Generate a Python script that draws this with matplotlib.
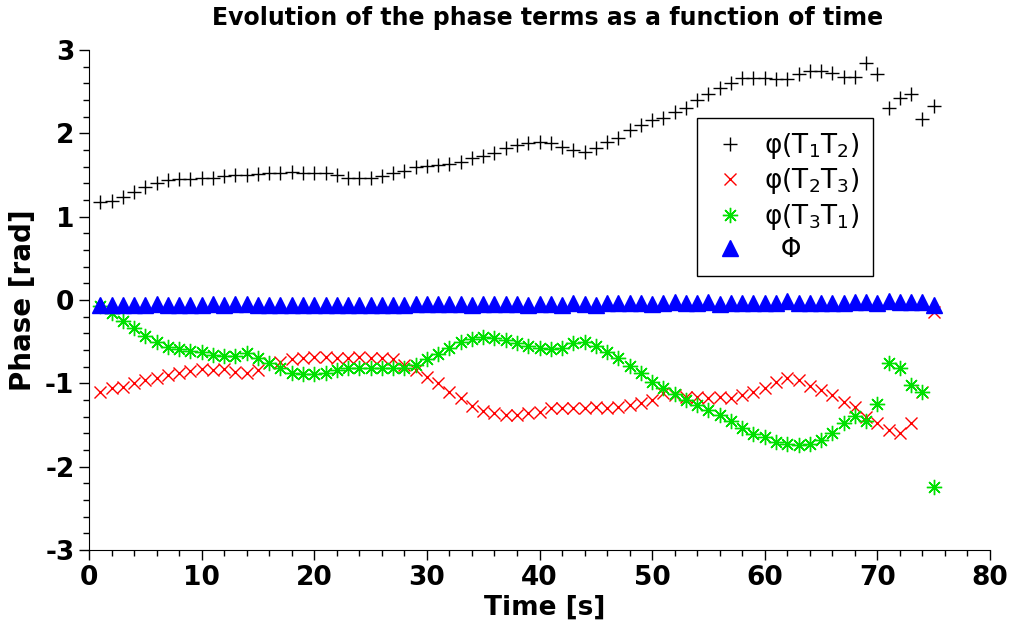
import matplotlib
matplotlib.use('Agg')
import matplotlib.pyplot as plt
from matplotlib.ticker import MultipleLocator

plt.rcParams['font.family'] = 'DejaVu Sans'
plt.rcParams['axes.unicode_minus'] = False

# Data
time_s = list(range(1, 76))

phi_12 = [1.18, 1.19, 1.24, 1.30, 1.36, 1.41, 1.44, 1.45, 1.45, 1.46,
          1.47, 1.49, 1.50, 1.50, 1.51, 1.52, 1.53, 1.54, 1.53, 1.53,
          1.53, 1.50, 1.47, 1.47, 1.47, 1.49, 1.52, 1.55, 1.60, 1.61,
          1.62, 1.63, 1.66, 1.71, 1.73, 1.77, 1.82, 1.86, 1.88, 1.90,
          1.88, 1.84, 1.80, 1.78, 1.82, 1.90, 1.95, 2.04, 2.10, 2.16,
          2.19, 2.26, 2.30, 2.40, 2.47, 2.54, 2.61, 2.66, 2.67, 2.67,
          2.65, 2.65, 2.71, 2.75, 2.75, 2.72, 2.68, 2.68, 2.84, 2.71,
          2.31, 2.43, 2.47, 2.17, 2.33]

phi_23 = [-1.10, -1.06, -1.04, -1.00, -0.96, -0.93, -0.90, -0.88, -0.85, -0.83,
          -0.84, -0.83, -0.86, -0.88, -0.84, -0.76, -0.74, -0.71, -0.69, -0.68,
          -0.68, -0.69, -0.70, -0.68, -0.69, -0.70, -0.71, -0.78, -0.84, -0.92,
          -1.00, -1.10, -1.18, -1.27, -1.33, -1.36, -1.38, -1.38, -1.36, -1.34,
          -1.30, -1.30, -1.30, -1.30, -1.28, -1.30, -1.28, -1.26, -1.24, -1.20,
          -1.12, -1.14, -1.16, -1.16, -1.17, -1.16, -1.18, -1.14, -1.10, -1.06,
          -0.98, -0.94, -0.96, -1.03, -1.08, -1.14, -1.22, -1.28, -1.40, -1.47,
          -1.56, -1.60, -1.47, -1.10, -0.14]

phi_31 = [-0.07, -0.16, -0.25, -0.34, -0.43, -0.50, -0.56, -0.59, -0.61, -0.62,
          -0.66, -0.67, -0.67, -0.63, -0.70, -0.76, -0.81, -0.88, -0.89, -0.89,
          -0.88, -0.84, -0.81, -0.81, -0.81, -0.81, -0.82, -0.81, -0.78, -0.71,
          -0.65, -0.58, -0.50, -0.47, -0.44, -0.46, -0.48, -0.51, -0.55, -0.58,
          -0.59, -0.58, -0.52, -0.50, -0.55, -0.62, -0.70, -0.79, -0.88, -0.98,
          -1.06, -1.13, -1.20, -1.26, -1.32, -1.38, -1.45, -1.54, -1.61, -1.64,
          -1.70, -1.73, -1.74, -1.73, -1.68, -1.59, -1.47, -1.39, -1.45, -1.25,
          -0.76, -0.82, -1.02, -1.10, -2.24]

closure = [-0.057, -0.064, -0.064, -0.064, -0.064, -0.049, -0.057, -0.064, -0.064, -0.064,
           -0.049, -0.057, -0.049, -0.045, -0.057, -0.064, -0.057, -0.064, -0.064, -0.064,
           -0.057, -0.064, -0.057, -0.057, -0.057, -0.060, -0.057, -0.064, -0.049, -0.045,
           -0.045, -0.049, -0.049, -0.057, -0.049, -0.045, -0.049, -0.049, -0.057, -0.045,
           -0.049, -0.057, -0.033, -0.049, -0.057, -0.033, -0.037, -0.033, -0.041, -0.049,
           -0.033, -0.029, -0.033, -0.033, -0.025, -0.045, -0.033, -0.033, -0.033, -0.033,
           -0.033, -0.017, -0.033, -0.033, -0.033, -0.033, -0.033, -0.025, -0.025, -0.033,
           -0.017, -0.025, -0.025, -0.025, -0.064]

fig = plt.figure(figsize=(10.11, 6.24), dpi=100)
ax = fig.add_axes([89 / 1011, 74 / 624, 901 / 1011, 500 / 624])

ax.plot(time_s, phi_12, linestyle='none', marker='+', markersize=10,
        markeredgewidth=1.0, color='black', label='φ(T$_1$T$_2$)')
ax.plot(time_s, phi_23, linestyle='none', marker='x', markersize=8,
        markeredgewidth=1.0, color='#ff0000', label='φ(T$_2$T$_3$)')
ax.plot(time_s, phi_31, linestyle='none', marker=(8, 2, 0), markersize=11,
        markeredgewidth=1.0, color='#00e000', label='φ(T$_3$T$_1$)')
ax.plot(time_s, closure, linestyle='none', marker='^', markersize=11,
        color='#0000ff', label='  Φ')

ax.set_xlim(0, 80)
ax.set_ylim(-3, 3)
ax.xaxis.set_major_locator(MultipleLocator(10))
ax.xaxis.set_minor_locator(MultipleLocator(2))
ax.yaxis.set_major_locator(MultipleLocator(1))
ax.yaxis.set_minor_locator(MultipleLocator(0.2))

for s in ['top', 'right']:
    ax.spines[s].set_visible(False)
ax.tick_params(which='major', direction='out', length=7, width=1, labelsize=19)
ax.tick_params(which='minor', direction='out', length=4, width=1)
for lab in ax.get_xticklabels() + ax.get_yticklabels():
    lab.set_fontweight('bold')

ax.set_xlabel('Time [s]', fontsize=19, fontweight='bold')
ax.set_ylabel('Phase [rad]', fontsize=20, fontweight='bold')
ax.xaxis.set_label_coords(0.506, -0.09)
ax.yaxis.set_label_coords(-0.058, 0.5)
fig.text(548 / 1011, 1 - 18 / 624, 'Evolution of the phase terms as a function of time',
         ha='center', va='center', fontsize=17, fontweight='bold')

leg = ax.legend(loc='upper left', bbox_to_anchor=(0.675, 0.864), borderaxespad=0,
                fontsize=19, fancybox=False, edgecolor='black', framealpha=1,
                handlelength=1.5, handletextpad=0.55, labelspacing=0.2, borderpad=0.5)
leg.get_frame().set_linewidth(1)

fig.savefig('out.png', dpi=100)
